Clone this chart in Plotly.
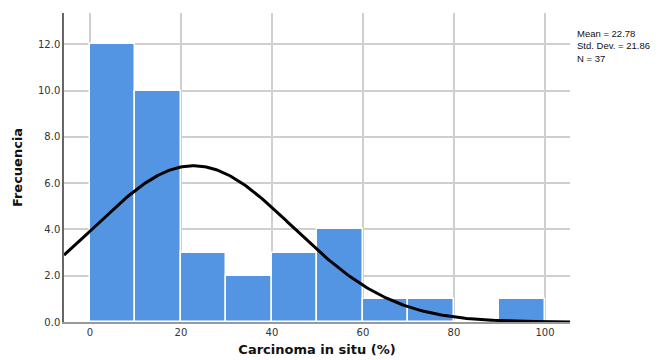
import numpy as np
import plotly.graph_objects as go

bin_starts = [0, 10, 20, 30, 40, 50, 60, 70, 80, 90]
counts = [12, 10, 3, 2, 3, 4, 1, 1, 0, 1]
bin_width = 10
mean_val = 22.78
sd_val = 21.86
n_val = 37
x_ticks = [0, 20, 40, 60, 80, 100]
y_ticks = [0, 2, 4, 6, 8, 10, 12]

centers = [s + bin_width / 2 for s in bin_starts]

x_lo, x_hi = -5.7, 105.5
xs = np.linspace(x_lo, x_hi, 300)
ys = n_val * bin_width / (sd_val * np.sqrt(2 * np.pi)) * np.exp(-0.5 * ((xs - mean_val) / sd_val) ** 2)

fig = go.Figure()
fig.add_trace(go.Bar(
    x=centers, y=counts, width=bin_width,
    marker=dict(color="#5394E3", line=dict(color="white", width=1.5)),
    showlegend=False, hoverinfo="skip"))
fig.add_trace(go.Scatter(
    x=xs, y=ys, mode="lines", line=dict(color="black", width=3),
    showlegend=False, hoverinfo="skip"))

stats_text = f"Mean = {mean_val:.2f}<br>Std. Dev. = {sd_val:.2f}<br>N = {n_val}"

L, R, T, B, W, H = 56, 90, 5, 38, 652, 352
pw, ph = W - L - R, H - T - B

fig.update_layout(
    width=W, height=H,
    margin=dict(l=L, r=R, t=T, b=B),
    plot_bgcolor="white", paper_bgcolor="white",
    font=dict(family="DejaVu Sans", size=10, color="#222"),
    bargap=0,
    xaxis=dict(range=[x_lo, x_hi], tickvals=x_ticks, ticktext=[str(v) for v in x_ticks],
               showgrid=True, gridcolor="#cfcfcf", gridwidth=1.5, zeroline=False,
               showline=True, linecolor="#999", linewidth=1.5, ticks="",
               tickfont=dict(size=10, color="#333"),
               automargin=False,
               title=dict(text="<b>Carcinoma in situ (%)</b>", font=dict(size=13, color="#111"), standoff=8)),
    yaxis=dict(range=[0, 13.35], tickvals=y_ticks, ticktext=[f"{v:.1f}" for v in y_ticks],
               showgrid=True, gridcolor="#cfcfcf", gridwidth=1.5, zeroline=False,
               showline=True, linecolor="#666", linewidth=1.5, ticks="",
               tickfont=dict(size=10, color="#333"), automargin=False,
               title=dict(text="<b>Frecuencia</b>", font=dict(size=13, color="#111"), standoff=12)),
    annotations=[dict(
        x=(568 - L) / pw, y=1 - (19 - T) / ph, xref="paper", yref="paper",
        xanchor="left", yanchor="top", text=stats_text, showarrow=False,
        align="left", borderpad=0,
        font=dict(family="Liberation Sans", size=9.5, color="#111"))],
)

fig.write_html("out.html")
